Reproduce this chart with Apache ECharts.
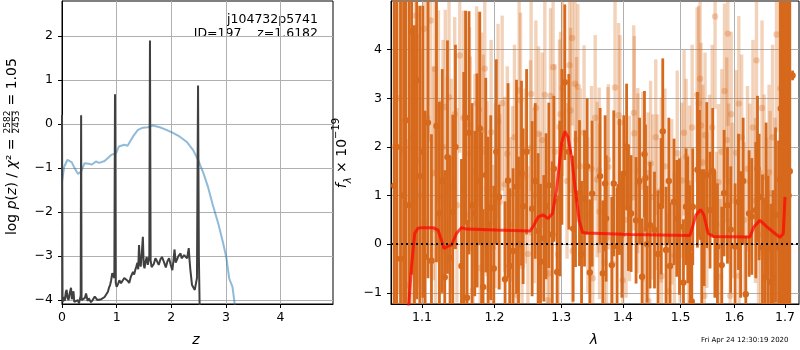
<!DOCTYPE html>
<html>
<head>
<meta charset="utf-8">
<script src="https://cdn.jsdelivr.net/npm/echarts@6/dist/echarts.min.js"></script>
<style>
  html, body { margin: 0; background: #fff; }
  #chart { width: 800px; height: 350px; }
</style>
</head>
<body>
<div id="chart"></div>
<script>
// ---- left panel: log p(z) ----
const priorZ = [0.0, 0.04, 0.10, 0.18, 0.23, 0.29, 0.35, 0.41, 0.49, 0.55, 0.62, 0.68, 0.78, 0.84, 0.90, 0.99, 1.04, 1.14, 1.20, 1.30, 1.39, 1.48, 1.57, 1.66, 1.79, 1.91, 2.03, 2.15, 2.28, 2.40, 2.49, 2.59, 2.67, 2.76, 2.86, 2.95, 3.01, 3.06, 3.12, 3.16, 3.22];
const priorLogP = [-1.31, -0.97, -0.81, -0.87, -1.0, -1.13, -1.08, -0.89, -0.90, -0.92, -0.85, -0.88, -0.84, -0.77, -0.70, -0.66, -0.51, -0.47, -0.49, -0.28, -0.13, -0.08, -0.07, -0.03, -0.07, -0.13, -0.20, -0.28, -0.40, -0.59, -0.81, -1.12, -1.42, -1.84, -2.26, -2.71, -3.05, -3.51, -3.70, -4.08, -4.6];

const pzZ = [0.0, 0.01, 0.03, 0.05, 0.07, 0.085, 0.10, 0.12, 0.14, 0.165, 0.18, 0.195, 0.21, 0.225, 0.26, 0.29, 0.31, 0.33, 0.342, 0.35, 0.358, 0.39, 0.42, 0.44, 0.47, 0.49, 0.53, 0.56, 0.60, 0.62, 0.65, 0.68, 0.72, 0.75, 0.78, 0.81, 0.84, 0.86, 0.88, 0.90, 0.92, 0.94, 0.958, 0.97, 0.983, 1.0, 1.03, 1.05, 1.08, 1.11, 1.14, 1.17, 1.20, 1.23, 1.26, 1.30, 1.32, 1.34, 1.36, 1.38, 1.395, 1.41, 1.425, 1.44, 1.46, 1.48, 1.495, 1.51, 1.53, 1.55, 1.57, 1.585, 1.598, 1.61, 1.622, 1.64, 1.65, 1.68, 1.71, 1.74, 1.77, 1.80, 1.83, 1.87, 1.90, 1.93, 1.96, 1.99, 2.02, 2.04, 2.06, 2.08, 2.10, 2.13, 2.17, 2.19, 2.21, 2.235, 2.26, 2.29, 2.32, 2.335, 2.35, 2.38, 2.43, 2.47, 2.49, 2.505, 2.53];
const pzLogP = [0.21, -4.05, -3.93, -4.02, -3.82, -3.77, -3.95, -4.0, -3.85, -3.72, -3.98, -3.93, -3.80, -4.04, -4.06, -4.0, -4.08, -4.04, -3.9, 0.20, -4.0, -4.04, -3.95, -3.85, -4.02, -3.96, -4.05, -4.0, -3.92, -3.91, -4.0, -3.96, -3.98, -3.94, -3.93, -3.90, -3.81, -3.72, -3.66, -3.55, -3.39, -3.45, -3.5, 0.68, -3.6, -3.70, -3.62, -3.55, -3.62, -3.58, -3.50, -3.49, -3.56, -3.61, -3.47, -3.36, -3.42, -3.32, -3.24, -3.15, -3.3, -2.75, -3.15, -3.24, -2.95, -2.56, -3.2, -3.28, -3.12, -3.02, -3.2, -3.1, -3.0, 1.90, -3.1, -3.25, -3.28, -3.18, -3.05, -3.12, -3.20, -3.08, -3.02, -3.15, -3.26, -3.12, -3.05, -3.2, -3.32, -3.1, -2.85, -3.15, -3.09, -3.0, -2.94, -3.05, -3.09, -2.98, -2.98, -3.05, -2.82, -3.1, -3.32, -3.66, -3.77, -3.5, 0.88, -3.0, -5.0];

// ---- right panel: spectrum ----
const darkWave = [1.0640, 1.0671, 1.0720, 1.0787, 1.0830, 1.0865, 1.0930, 1.0970, 1.1040, 1.1079, 1.1125, 1.1192, 1.1232, 1.1304, 1.1341, 1.1376, 1.1413, 1.1533, 1.1565, 1.1611, 1.1638, 1.1680, 1.1718, 1.1751, 1.1789, 1.1836, 1.1874, 1.1907, 1.1945, 1.1989, 1.2065, 1.2152, 1.2196, 1.2221, 1.2270, 1.2320, 1.2394, 1.2418, 1.2553, 1.2644, 1.2680, 1.2730, 1.2765, 1.2807, 1.2884, 1.2935, 1.2977, 1.3055, 1.3118, 1.3186, 1.3224, 1.3287, 1.3367, 1.3453, 1.3490, 1.3664, 1.3702, 1.3718, 1.3812, 1.3845, 1.3900, 1.3940, 1.4012, 1.4091, 1.4135, 1.4220, 1.4323, 1.4364, 1.4382, 1.4461, 1.4538, 1.4653, 1.4683, 1.4741, 1.4812, 1.4883, 1.4932, 1.4980, 1.5052, 1.5099, 1.5172, 1.5203, 1.5221, 1.5307, 1.5344, 1.5386, 1.5429, 1.5479, 1.5540, 1.5679, 1.5760, 1.5804, 1.5868, 1.6014, 1.6079, 1.6221, 1.6285, 1.6338, 1.6417, 1.6450, 1.6482, 1.6549, 1.6601, 1.6661, 1.6715, 1.6761, 1.6871, 1.6903, 1.6917, 1.6990, 1.7054, 1.7100, 1.7157,
  1.0760, 1.0900, 1.1010, 1.1270, 1.1450, 1.1590, 1.1815, 1.2025, 1.2350, 1.2470, 1.2600, 1.2860, 1.3010, 1.3320, 1.3410, 1.3620, 1.3980, 1.4060, 1.4280, 1.4410, 1.4600, 1.4790, 1.5130, 1.5590, 1.5630, 1.5930, 1.6120, 1.6170, 1.6620, 1.6810, 1.6950, 1.7030, 1.7075];
const darkFlux = [1.2, 2.0, -0.3, 2.55, 0.8, 4.37, 3.37, 1.40, -0.26, 2.50, -0.34, 2.43, 0.63, -0.68, 1.79, -0.28, 0.66, -0.45, 1.14, -1.10, 2.29, 0.80, 0.63, 1.31, 2.38, -0.88, 1.42, 0.41, 0.75, -0.50, 0.97, -0.72, 1.31, -0.45, -0.14, 1.18, 1.46, 0.78, 0.73, 0.27, -0.36, 0.12, 0.78, 1.21, 1.55, -0.57, 0.94, 3.33, 1.90, 0.32, 0.93, 1.05, 0.94, -0.58, 1.04, -0.60, 1.25, 0.53, -0.43, 1.25, -0.04, 1.18, 1.45, 0.75, 0.63, 0.49, -0.67, 1.85, 1.36, 0.39, 0.29, 0.78, 2.32, -0.12, -0.45, 0.87, 0.53, 0.36, -0.79, 0.77, -0.09, -1.18, 0.77, 1.53, 1.46, 0.14, 0.34, 1.42, 0.70, -0.05, -0.43, 1.05, 0.80, -0.05, 0.87, -1.03, 0.63, 0.57, 0.70, 1.55, 0.97, -0.07, -0.68, -0.09, -0.77, -0.69, -0.07, 1.33, 2.79, -0.5, 0.66, 1.5, 3.47,
  1.0, -0.5, 1.9, 1.3, 2.0, 2.6, 0.3, 1.9, 0.0, 1.9, 1.3, 0.2, 2.0, -0.2, 1.6, 1.4, 0.2, 2.0, 1.3, 0.0, -0.2, 1.3, 0.5, 1.5, 0.2, 0.3, 0.2, 1.3, 0.9, 0.6, -1.0, 2.0, 1.0];
const darkErr = [6, 6, 6, 5, 6, 5, 4.5, 3.5, 3, 3.2, 2.6, 2.8, 2.3, 2.2, 2.4, 2.1, 2.0, 2.2, 2.4, 1.6, 2.5, 2.1, 1.7, 2.2, 2.4, 1.6, 2.0, 1.8, 1.9, 1.7, 1.9, 1.6, 2.0, 1.6, 1.7, 2.2, 1.9, 1.6, 1.8, 1.6, 1.6, 1.3, 1.5, 1.7, 1.5, 1.5, 1.6, 1.6, 1.6, 1.5, 1.4, 1.5, 1.4, 1.5, 1.5, 1.5, 1.4, 1.3, 1.4, 1.5, 1.2, 1.4, 1.2, 1.3, 1.2, 1.3, 1.2, 1.3, 1.1, 1.3, 1.2, 1.4, 1.5, 1.3, 1.3, 1.3, 1.2, 1.4, 1.3, 1.2, 1.3, 1.0, 1.2, 1.6, 1.3, 1.4, 1.2, 1.5, 1.2, 1.3, 1.2, 1.3, 1.2, 1.3, 1.4, 1.2, 1.3, 1.2, 1.4, 1.5, 1.3, 1.5, 1.6, 1.5, 1.6, 1.8, 2.2, 5, 6, 6, 6, 6, 0.1,
  6, 5, 3, 2.3, 2.1, 2.2, 2.0, 1.9, 1.8, 1.7, 1.6, 1.5, 1.6, 1.5, 1.4, 1.4, 1.3, 1.3, 1.3, 1.2, 1.3, 1.3, 1.3, 1.3, 1.3, 1.3, 1.3, 1.3, 1.6, 1.8, 6, 6, 6];

const lightWave = [1.0640, 1.0752, 1.0817, 1.0904, 1.0917, 1.0939, 1.1026, 1.1033, 1.1115, 1.1152, 1.1173, 1.1219, 1.1250, 1.1311, 1.1338, 1.1362, 1.1440, 1.1509, 1.1645, 1.1655, 1.1695, 1.1745, 1.1779, 1.1795, 1.1813, 1.1860, 1.1892, 1.1921, 1.1978, 1.2050, 1.2075, 1.2148, 1.2185, 1.2262, 1.2329, 1.2359, 1.2379, 1.2403, 1.2529, 1.2538, 1.2650, 1.2705, 1.2746, 1.2792, 1.2815, 1.2833, 1.2873, 1.2950, 1.2972, 1.2988, 1.3129, 1.3145, 1.3170, 1.3176, 1.3215, 1.3240, 1.3261, 1.3360, 1.3480, 1.3500, 1.3571, 1.3604, 1.3692, 1.3725, 1.3757, 1.3828, 1.3866, 1.3948, 1.3995, 1.4108, 1.4181, 1.4249, 1.4370, 1.4434, 1.4470, 1.4508, 1.4583, 1.4660, 1.4784, 1.4842, 1.4890, 1.4940, 1.5021, 1.5063, 1.5143, 1.5161, 1.5300, 1.5355, 1.5373, 1.5405, 1.5435, 1.5447, 1.5530, 1.5634, 1.5698, 1.5728, 1.5812, 1.5855, 1.5875, 1.5890, 1.5920, 1.5939, 1.6035, 1.6085, 1.6091, 1.6254, 1.6299, 1.6410, 1.6430, 1.6515, 1.6581, 1.6681, 1.6701, 1.6830, 1.6910, 1.6951,
  1.0700, 1.0860, 1.0985, 1.1070, 1.1180, 1.1280, 1.1395, 1.1470, 1.1560, 1.1600, 1.1720, 1.1840, 1.1950, 1.2010, 1.2110, 1.2225, 1.2290, 1.2450, 1.2490, 1.2585, 1.2610, 1.2680, 1.2900, 1.3020, 1.3090, 1.3300, 1.3420, 1.3540, 1.3611, 1.3747, 1.3925, 1.4050, 1.4190, 1.4251, 1.4337, 1.4424, 1.4560, 1.4656, 1.4720, 1.4990, 1.5100, 1.5210, 1.5329, 1.5480, 1.5580, 1.5660, 1.5760, 1.5960, 1.6140, 1.6190, 1.6360, 1.6470, 1.6540, 1.6630, 1.6750, 1.6800];
const lightFlux = [2.0, 1.93, -0.84, 0.90, 4.70, 1.72, 4.43, 0.46, 4.60, 1.46, 3.60, 2.81, 0.97, 2.82, 1.45, 3.02, 2.67, 3.88, 2.46, 1.86, -0.94, 2.89, 2.77, -0.49, 2.35, 3.61, 1.14, -0.91, -0.07, 2.53, 0.87, 1.23, 1.86, 1.04, -1.05, 3.16, 2.96, -0.45, 1.98, 3.09, 2.27, 2.14, 3.07, -1.15, -0.60, 3.05, 3.64, -0.21, 2.41, 2.67, 3.68, 2.75, 4.24, -0.14, 3.30, 2.15, 3.24, 2.29, 1.55, -0.70, 1.33, 1.52, -0.38, 0.13, 1.59, -0.40, 3.22, 2.50, -0.74, 0.94, 2.70, 1.51, 0.29, -1.17, 1.66, 0.97, 1.07, -0.66, -0.97, 0.87, -0.23, 1.87, 1.31, 2.29, -0.29, 1.25, 3.07, 3.40, 2.44, 1.68, -1.06, 2.24, 1.47, 4.68, 1.28, -0.67, 3.15, 2.14, 4.33, 1.29, -1.06, 2.67, 1.88, 2.89, -0.65, 1.55, 1.29, 0.90, 3.78, -0.18, 1.38, 1.48, 1.04, 4.31, 3.20, 1.33,
  3.0, 2.2, 1.0, 2.6, 0.3, 2.0, 1.2, 0.8, 2.6, 0.6, 1.5, 1.9, 2.3, 1.0, 2.9, 0.4, 2.2, 1.4, -0.2, 1.0, 2.8, 0.6, 1.9, 3.2, 1.3, 1.6, 0.6, 2.6, 0.67, 1.73, 2.65, 0.5, 2.28, 1.25, 1.18, 1.46, 2.2, 1.11, 1.6, 0.3, 1.8, 2.4, 2.9, 0.7, 2.4, 0.4, 1.9, 0.9, 2.2, 0.5, 2.4, 0.2, 2.8, 0.5, 2.2, 0.6];
const lightErr = [5, 3.5, 3, 3, 3, 2.6, 2.5, 2.3, 2.5, 2.2, 2.2, 2.0, 2.0, 2.0, 2.0, 2.0, 2.0, 2.0, 2.0, 2.0, 1.8, 2.0, 2.0, 1.8, 2.0, 2.2, 1.8, 1.8, 1.7, 2.0, 1.8, 1.8, 1.8, 1.8, 1.7, 2.0, 1.8, 1.7, 1.8, 2.0, 1.8, 1.8, 2.0, 1.7, 1.7, 1.8, 2.0, 1.7, 1.8, 1.7, 1.8, 1.7, 1.8, 1.7, 1.8, 1.7, 1.7, 1.8, 1.7, 1.7, 1.6, 1.7, 1.6, 1.6, 1.7, 1.6, 1.9, 1.8, 1.6, 1.7, 1.8, 1.7, 1.7, 1.6, 1.7, 1.7, 1.6, 1.7, 1.6, 1.7, 1.7, 1.7, 1.6, 1.7, 1.6, 1.6, 1.8, 1.8, 1.7, 1.6, 1.6, 1.7, 1.6, 1.9, 1.6, 1.6, 1.8, 1.7, 1.9, 1.6, 1.6, 1.7, 1.7, 1.8, 1.6, 1.7, 1.6, 1.7, 1.9, 1.7, 1.7, 1.8, 1.7, 2.0, 3.0, 5,
  4, 3.5, 3, 2.6, 2.2, 2.2, 2.2, 2.0, 2.2, 2.0, 2.0, 2.0, 1.9, 1.9, 1.8, 1.8, 1.9, 1.8, 1.8, 1.8, 1.8, 1.7, 1.8, 1.8, 1.6, 1.6, 1.6, 1.7, 1.8, 1.5, 1.9, 1.6, 2.0, 1.85, 1.95, 1.25, 1.6, 1.9, 1.6, 1.5, 1.6, 1.7, 2.0, 1.6, 1.7, 1.5, 1.7, 1.6, 1.7, 1.6, 1.8, 1.6, 1.8, 1.7, 1.9, 2.0];

const modelWave = [1.0815, 1.0861, 1.0904, 1.0947, 1.0992, 1.1146, 1.1213, 1.1259, 1.1294, 1.1349, 1.1395, 1.1464, 1.1533, 1.1602, 1.2028, 1.2518, 1.2568, 1.2644, 1.2720, 1.2796, 1.2864, 1.2926, 1.3004, 1.3055, 1.3107, 1.3161, 1.3229, 1.3282, 1.3336, 1.3400, 1.4115, 1.5169, 1.5200, 1.5279, 1.5365, 1.5426, 1.5506, 1.5599, 1.6302, 1.6381, 1.6499, 1.6633, 1.6799, 1.6900, 1.6967, 1.7002];
const modelFlux = [-1.5, -0.47, 0.22, 0.33, 0.34, 0.34, 0.29, 0.08, -0.09, -0.04, -0.02, 0.22, 0.34, 0.31, 0.29, 0.27, 0.36, 0.56, 0.60, 0.53, 0.63, 1.11, 2.07, 2.32, 2.20, 1.79, 1.04, 0.49, 0.24, 0.23, 0.20, 0.18, 0.29, 0.60, 0.71, 0.60, 0.22, 0.16, 0.15, 0.36, 0.49, 0.36, 0.22, 0.14, 0.22, 0.97];

const zTicks = [0, 1, 2, 3, 4];
const logpTicks = [-4, -3, -2, -1, 0, 1, 2];
const waveTicks = [1.1, 1.2, 1.3, 1.4, 1.5, 1.6, 1.7];
const fluxTicks = [-1, 0, 1, 2, 3, 4];

const FONT = 'DejaVu Sans';
const ORANGE = '#d6691c';
const minus = v => String(v).replace('-', '\u2212');

const zip = (a, b, c) => a.map((v, i) => (c ? [v, b[i], c[i]] : [v, b[i]]));

function axis(grid, type, min, max, ticks, fmt, margin) {
  return {
    type: type,
    gridIndex: grid,
    min: min,
    max: max,
    axisLine: { show: true, onZero: false, lineStyle: { color: '#000', width: 1 } },
    axisTick: { show: true, length: 4, customValues: ticks, lineStyle: { color: '#000' } },
    axisLabel: {
      customValues: ticks, color: '#000', fontFamily: FONT, fontSize: 12.5,
      margin: margin, formatter: fmt,
    },
    splitLine: { show: true, lineStyle: { color: '#b0b0b0', width: 1 } },
  };
}

function errorBars(alpha, barW) {
  return function (params, api) {
    const x = api.value(0), y = api.value(1), e = api.value(2);
    const hi = api.coord([x, y + e]);
    const lo = api.coord([x, y - e]);
    const c = api.coord([x, y]);
    return {
      type: 'group',
      children: [
        { type: 'rect', shape: { x: c[0] - barW / 2, y: hi[1], width: barW, height: lo[1] - hi[1] },
          style: { fill: ORANGE, opacity: alpha } },
        { type: 'circle', shape: { cx: c[0], cy: c[1], r: 3.2 },
          style: { fill: ORANGE, opacity: alpha } },
      ],
    };
  };
}

const chart = echarts.init(document.getElementById('chart'));
chart.setOption({
  animation: false,
  backgroundColor: '#fff',
  grid: [
    { left: 62, top: 1, width: 271, height: 303, show: true, borderColor: '#000', borderWidth: 1, outerBoundsMode: 'none' },
    { left: 391, top: 1, width: 408, height: 303, show: true, borderColor: '#000', borderWidth: 1, outerBoundsMode: 'none' },
  ],
  xAxis: [
    axis(0, 'value', 0, 4.96, zTicks, v => minus(v), 7),
    Object.assign(axis(1, 'log', 1.0598, 1.729, waveTicks, v => Number(v).toFixed(1), 7), { logBase: 10 }),
  ],
  yAxis: [
    axis(0, 'value', -4.09, 2.8, logpTicks, v => minus(v), 9),
    axis(1, 'value', -1.23, 5.0, fluxTicks, v => minus(v), 9),
  ],
  series: [
    {
      type: 'line', xAxisIndex: 0, yAxisIndex: 0, data: zip(priorZ, priorLogP),
      showSymbol: false, clip: true,
      lineStyle: { color: '#1f77b4', opacity: 0.5, width: 2 },
    },
    {
      type: 'line', xAxisIndex: 0, yAxisIndex: 0, data: zip(pzZ, pzLogP),
      showSymbol: false, clip: true,
      lineStyle: { color: '#404040', width: 2 },
    },
    {
      type: 'custom', xAxisIndex: 1, yAxisIndex: 1, clip: true,
      data: zip(lightWave, lightFlux, lightErr),
      encode: { x: 0, y: 1 },
      renderItem: errorBars(0.3, 3.4),
    },
    {
      type: 'custom', xAxisIndex: 1, yAxisIndex: 1, clip: true,
      data: zip(darkWave, darkFlux, darkErr),
      encode: { x: 0, y: 1 },
      renderItem: errorBars(1, 2.8),
    },
    {
      type: 'line', xAxisIndex: 1, yAxisIndex: 1, data: zip(modelWave, modelFlux),
      showSymbol: false, clip: true,
      lineStyle: { color: '#ff0000', opacity: 0.7, width: 3 },
    },
    {
      type: 'line', xAxisIndex: 1, yAxisIndex: 1, data: [],
      markLine: {
        silent: true, symbol: ['none', 'none'], label: { show: false },
        lineStyle: { type: [2, 3], color: '#000', width: 2 },
        data: [{ yAxis: 0 }],
      },
    },
  ],
  graphic: [
    // title text in the p(z) panel
    { type: 'text', x: 318, y: 20, style: { text: 'j104732p5741', font: '12.5px "DejaVu Sans"', fill: '#000', align: 'right', verticalAlign: 'middle' } },
    { type: 'text', x: 318, y: 34, style: { text: 'ID=197    z=1.6182', font: '12.5px "DejaVu Sans"', fill: '#000', align: 'right', verticalAlign: 'middle' } },
    // y label of left panel
    {
      type: 'group', x: 12.5, y: 153, rotation: Math.PI / 2,
      children: [
        { type: 'text', x: 19, y: 0, style: {
          text: 'log {i|p}({i|z}) / {i|χ}² = ', font: '14px "DejaVu Sans"', fill: '#000',
          align: 'right', verticalAlign: 'middle',
          rich: { i: { fontStyle: 'italic', fontSize: 14, fontFamily: FONT } } } },
        { type: 'text', x: 31, y: -4.5, style: { text: '2582', font: '9px "DejaVu Sans"', fill: '#000', align: 'center', verticalAlign: 'middle' } },
        { type: 'line', shape: { x1: 20, y1: -0.5, x2: 42, y2: -0.5 }, style: { stroke: '#000', lineWidth: 0.8 } },
        { type: 'text', x: 31, y: 4, style: { text: '2453', font: '9px "DejaVu Sans"', fill: '#000', align: 'center', verticalAlign: 'middle' } },
        { type: 'text', x: 43, y: 0, style: { text: ' = 1.05', font: '14px "DejaVu Sans"', fill: '#000', align: 'left', verticalAlign: 'middle' } },
      ],
    },
    // y label of right panel
    {
      type: 'group', x: 342, y: 153, rotation: Math.PI / 2,
      children: [
        { type: 'text', x: 0, y: 0, style: {
          text: '{i|f}{sub|λ} × 10{sup|−19}', font: '14px "DejaVu Sans"', fill: '#000',
          align: 'center', verticalAlign: 'middle', lineHeight: 22,
          rich: {
            i: { fontStyle: 'italic', fontSize: 14, fontFamily: FONT },
            sub: { fontStyle: 'italic', fontSize: 10, fontFamily: FONT, verticalAlign: 'bottom' },
            sup: { fontSize: 10, fontFamily: FONT, verticalAlign: 'top' },
          } } },
      ],
    },
    // x axis names
    { type: 'text', x: 196, y: 340, style: { text: 'z', font: 'italic 14px "DejaVu Sans"', fill: '#000', align: 'center', verticalAlign: 'middle' } },
    { type: 'text', x: 594, y: 340, style: { text: 'λ', font: 'italic 14px "DejaVu Sans"', fill: '#000', align: 'center', verticalAlign: 'middle' } },
    // time stamp
    { type: 'text', x: 701, y: 340, style: { text: 'Fri Apr 24 12:30:19 2020', font: '7px "DejaVu Sans"', fill: '#000', align: 'left', verticalAlign: 'middle' } },
  ],
});
</script>
</body>
</html>
